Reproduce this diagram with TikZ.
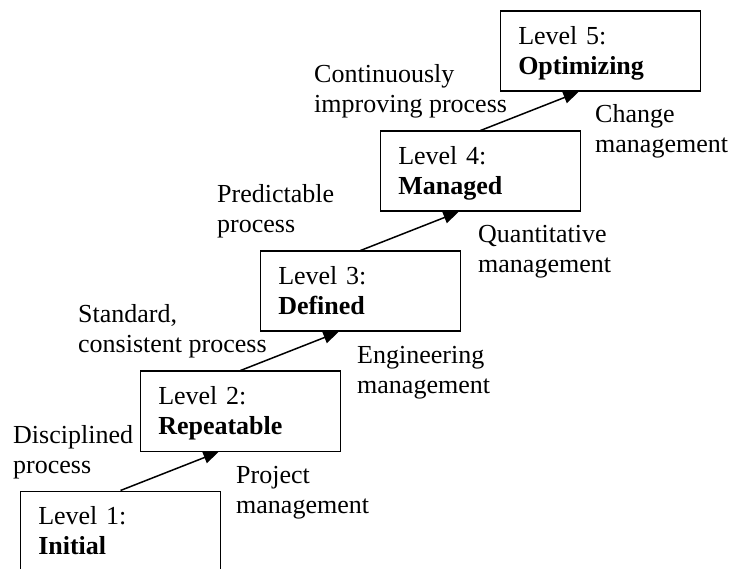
\documentclass[tikz,border=0pt]{standalone}
\usepackage{fontspec}
\setmainfont{Liberation Serif}
\usetikzlibrary{arrows.meta}
\newcommand\twolines[2]{\begin{tabular}[t]{@{}l@{}}#1\\#2\end{tabular}}
\begin{document}
\begin{tikzpicture}[x=1pt,y=-1pt,
  every node/.style={font=\fontsize{26}{30}\selectfont},
  levelbox/.style={draw, line width=1.5pt, anchor=north west, minimum width=200pt,
    minimum height=80pt, text width=164pt, align=left, inner xsep=18pt,
    inner ysep=0pt, text height=23pt, text depth=37pt},
  lbl/.style={anchor=base west, inner sep=0pt},
  arr/.style={line width=1.5pt, -{Triangle[length=15pt,width=12pt]}}]
\useasboundingbox (0,0) rectangle (734,569);
\clip (0,0) rectangle (734,569);
% level boxes
\node[levelbox] (b1) at (19.5,490.5) {Level 1:\\\textbf{Initial}};
\node[levelbox] (b2) at (139.5,370.5) {Level 2:\\\textbf{Repeatable}};
\node[levelbox] (b3) at (259.5,250.5) {Level 3:\\\textbf{Defined}};
\node[levelbox] (b4) at (379.5,130.5) {Level 4:\\\textbf{Managed}};
\node[levelbox] (b5) at (499.5,10.5) {Level 5:\\\textbf{Optimizing}};
% arrows
\draw[arr] ([xshift=101pt]b1.north west) -- ([xshift=79pt]b2.south west);
\draw[arr] ([xshift=101pt]b2.north west) -- ([xshift=79pt]b3.south west);
\draw[arr] ([xshift=101pt]b3.north west) -- ([xshift=79pt]b4.south west);
\draw[arr] ([xshift=101pt]b4.north west) -- ([xshift=79pt]b5.south west);
% process labels (left)
\node[lbl] (p1) at (13,443) {\twolines{Disciplined}{process}};
\node[lbl] (p2) at (78,323) {\twolines{Standard,}{consistent process}};
\node[lbl] (p3) at (217,203) {\twolines{Predictable}{process}};
\node[lbl] (p4) at (314,83) {\twolines{Continuously}{improving process}};
% management labels (right)
\node[lbl] (m1) at (236,483) {\twolines{Project}{management}};
\node[lbl] (m2) at (357,363) {\twolines{Engineering}{management}};
\node[lbl] (m3) at (478,243) {\twolines{Quantitative}{management}};
\node[lbl] (m4) at (595,123) {\twolines{Change}{management}};
\end{tikzpicture}
\end{document}
